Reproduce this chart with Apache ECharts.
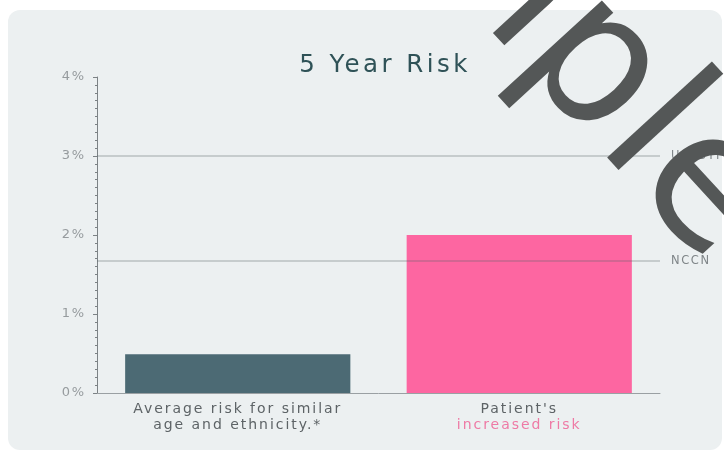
<!DOCTYPE html>
<html><head><meta charset="utf-8">
<script src="https://cdn.jsdelivr.net/npm/echarts@6/dist/echarts.min.js"></script>
<style>html,body{margin:0;padding:0;background:#fff}#c{width:724px;height:451px}</style>
</head><body><div id="c"></div>
<script>
const categories = ['Average risk for similar\nage and ethnicity.*', "Patient's\nincreased risk"];
const riskValues = [0.49, 2.0];
const barColors = ['#4c6a74', '#fd66a1'];
const thresholdNames = ['USPSTF', 'NCCN'];
const thresholdValues = [3, 1.67];
const yTicks = [0, 1, 2, 3, 4];
const titleText = '5 Year Risk';
const watermarkText = 'Sample';

// widen tracking of the installed font to resemble the reference typeface
(function () {
  const P = CanvasRenderingContext2D.prototype;
  if (!('letterSpacing' in P)) return;
  const setLS = function (ctx) {
    const m = /(\d+(?:\.\d+)?)px/.exec(ctx.font);
    const s = m ? parseFloat(m[1]) : 12;
    ctx.letterSpacing = (s >= 100 ? 0 : s * 0.14).toFixed(2) + 'px';
  };
  const f = P.fillText, mt = P.measureText;
  P.fillText = function () { setLS(this); return f.apply(this, arguments); };
  P.measureText = function () { setLS(this); return mt.apply(this, arguments); };
})();

const FONT = '"DejaVu Sans", sans-serif';
const chart = echarts.init(document.getElementById('c'), null, {renderer: 'canvas'});
const angle = -47.5 * Math.PI / 180;
chart.setOption({
  backgroundColor: '#ffffff',
  animation: false,
  title: {text: titleText, left: 380, textAlign: 'center', top: 46,
    textStyle: {fontFamily: FONT, fontSize: 24.5, fontWeight: 'normal', color: '#2f5257'}},
  grid: {left: 97, right: 64, top: 77, bottom: 58},
  xAxis: {type: 'category', data: categories,
    axisLine: {lineStyle: {color: '#9aa0a3', width: 1}},
    axisTick: {alignWithLabel: true, length: 4, lineStyle: {color: '#8a9094'}},
    axisLabel: {margin: 8, lineHeight: 16,
      formatter: function (v, i) {
        const parts = v.split('\n');
        if (i === 1) return '{a|' + parts[0] + '}\n{p|' + parts[1] + '}';
        return '{a|' + parts[0] + '}\n{a|' + parts[1] + '}';
      },
      rich: {
        a: {fontFamily: FONT, fontSize: 14, color: '#5d6366', lineHeight: 16},
        p: {fontFamily: FONT, fontSize: 14, color: '#ee7aa5', lineHeight: 16}
      }}
  },
  yAxis: {type: 'value', min: 0, max: 4, interval: 1,
    axisLine: {show: true, lineStyle: {color: '#7c8285', width: 1}},
    axisTick: {show: true, length: 4, lineStyle: {color: '#7c8285'}},
    minorTick: {show: true, splitNumber: 10, length: 2, lineStyle: {color: '#7c8285'}},
    splitLine: {show: false},
    axisLabel: {margin: 11, fontFamily: FONT, fontSize: 13, color: '#969b9e',
      formatter: function (v) { return yTicks.indexOf(v) >= 0 ? v + '%' : ''; }}
  },
  series: [{
    type: 'bar', barCategoryGap: '20%',
    data: riskValues.map((v, i) => ({value: v, itemStyle: {color: barColors[i]}})),
    markLine: {
      symbol: 'none', silent: true,
      lineStyle: {type: 'solid', color: 'rgba(90,100,105,0.35)', width: 1.5},
      label: {position: 'end', distance: 11, fontFamily: FONT, fontSize: 11.5, color: '#7f8588',
        formatter: p => p.name},
      data: thresholdValues.map((v, i) => ({name: thresholdNames[i], yAxis: v}))
    }
  }],
  graphic: [
    {type: 'rect', z: -10, silent: true, shape: {x: 8, y: 10, width: 714, height: 440, r: 12},
      style: {fill: '#ecf0f1'}},
    {type: 'text', z: 100, silent: true, x: 675, y: 298, rotation: angle,
      style: {text: watermarkText, fontFamily: FONT, fontSize: 187, fontWeight: 'normal', fill: '#545757',
        align: 'right', verticalAlign: 'bottom'}}
  ]
});
</script></body></html>
